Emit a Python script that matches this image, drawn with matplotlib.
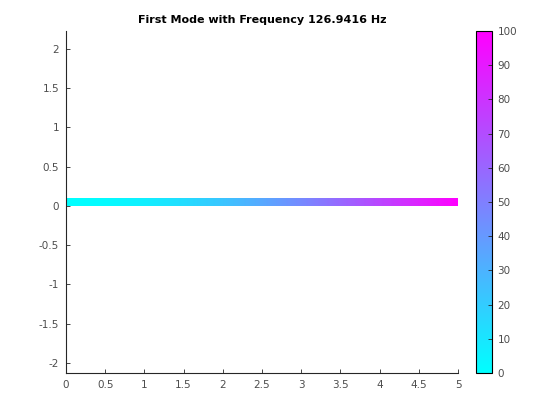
import matplotlib
matplotlib.use("Agg")
import matplotlib.pyplot as plt
import numpy as np

# beam stations along the length and the colour value (mode shape, % of tip)
x_pos = [0.0, 0.5, 1.0, 1.5, 2.0, 2.5, 3.0, 3.5, 4.0, 4.5, 5.0]
mode_val = [0.0, 1.7, 6.4, 13.7, 23.0, 34.0, 46.1, 59.1, 72.6, 86.3, 100.0]
beam_y = [0.0, 0.09]

title = "First Mode with Frequency 126.9416 Hz"
xticks = [0, 0.5, 1, 1.5, 2, 2.5, 3, 3.5, 4, 4.5, 5]
yticks = [-2, -1.5, -1, -0.5, 0, 0.5, 1, 1.5, 2]
cticks = [0, 10, 20, 30, 40, 50, 60, 70, 80, 90, 100]

plt.rcParams['font.family'] = ['DejaVu Sans']
tick_col = '#4d4d4d'

fig = plt.figure(figsize=(5.6, 4.2), dpi=100)
ax = fig.add_axes([66 / 560, 1 - 373 / 420, 392 / 560, 342 / 420])
cax = fig.add_axes([476 / 560, 1 - 373 / 420, 16 / 560, 342 / 420])

# one image row, pixel centres sitting on the beam stations
half = (x_pos[1] - x_pos[0]) / 2
img = ax.imshow(np.array([mode_val]), cmap='cool', vmin=0, vmax=100,
                extent=[x_pos[0] - half, x_pos[-1] + half, beam_y[0], beam_y[1]],
                aspect='auto', interpolation='bilinear', origin='lower', zorder=1)

ax.set_xlim(0, 5)
ax.set_ylim(-2.13, 2.23)
ax.set_xticks(xticks)
ax.set_xticklabels([f"{t:g}" for t in xticks])
ax.set_yticks(yticks)
ax.set_yticklabels([f"{t:g}" for t in yticks])
for s in ['top', 'right']:
    ax.spines[s].set_visible(False)
for s in ['left', 'bottom']:
    ax.spines[s].set_color('#262626')
    ax.spines[s].set_linewidth(0.8)
ax.tick_params(direction='in', length=3, width=0.6, colors='#262626',
               labelsize=7.5, labelcolor=tick_col, pad=5)
ax.set_title(title, fontsize=8, fontweight='bold', pad=6)

cb = fig.colorbar(img, cax=cax, ticks=cticks)
cb.outline.set_linewidth(0.8)
cb.ax.tick_params(direction='in', length=3, width=0.6, colors='#262626',
                  labelsize=7.5, labelcolor=tick_col, pad=4)

fig.savefig("out.png", dpi=100)
